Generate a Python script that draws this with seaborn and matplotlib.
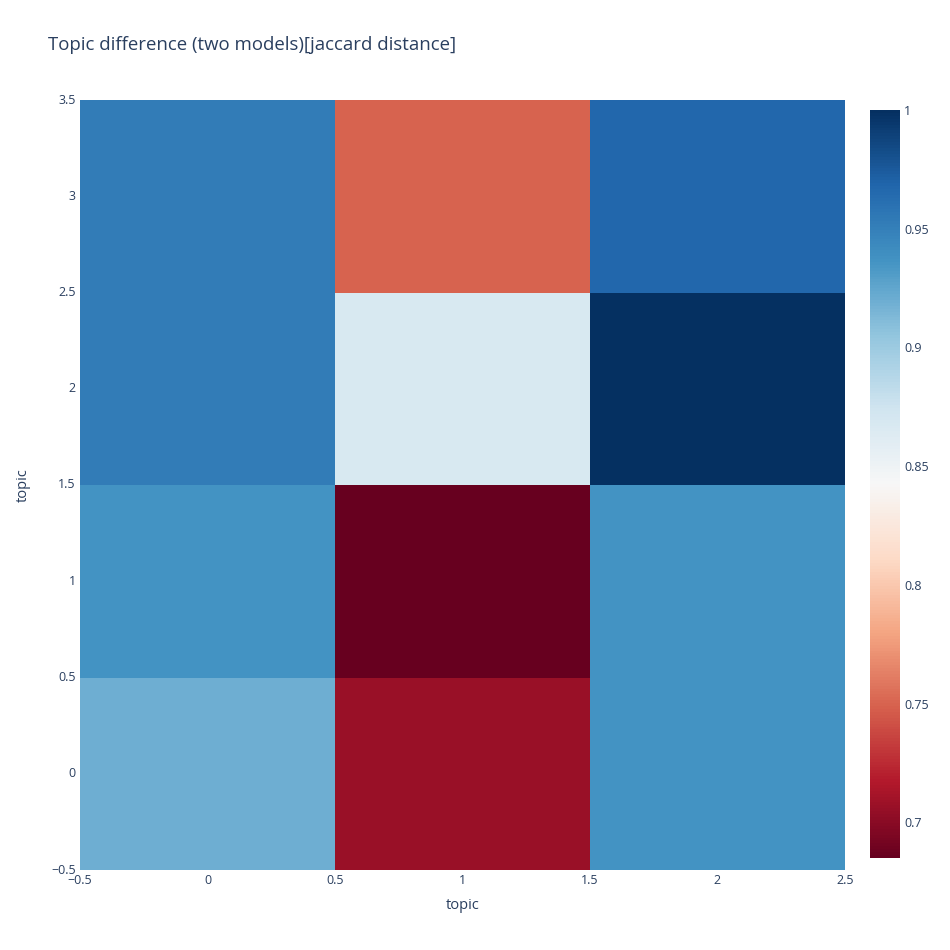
import numpy as np
import pandas as pd
import matplotlib
matplotlib.use("Agg")
import matplotlib.pyplot as plt
import seaborn as sns

# Data (rows = topic 0..3 from bottom, cols = topic 0..2)
row_topics = [0, 1, 2, 3]
col_topics = [0, 1, 2]
row0 = [0.920, 0.707, 0.937]
row1 = [0.937, 0.685, 0.937]
row2 = [0.953, 0.868, 1.000]
row3 = [0.953, 0.749, 0.968]
x_tick_vals = [-0.5, 0, 0.5, 1, 1.5, 2, 2.5]
y_tick_vals = [-0.5, 0, 0.5, 1, 1.5, 2, 2.5, 3, 3.5]
cbar_ticks = [0.7, 0.75, 0.8, 0.85, 0.9, 0.95, 1.0]

title = "Topic difference (two models)[jaccard distance]"
TXT = "#2a3f5f"

sns.set_theme(style="white")
plt.rcParams["font.family"] = ["Open Sans", "DejaVu Sans"]

df = pd.DataFrame([row0, row1, row2, row3], index=row_topics, columns=col_topics)

W = H = 950
fig = plt.figure(figsize=(9.5, 9.5), dpi=100)
ax = fig.add_axes([80 / W, 80 / H, 765 / W, 770 / H])
cax = fig.add_axes([870 / W, 92 / H, 30 / W, 748 / H])

vmin = min(min(r) for r in [row0, row1, row2, row3])
vmax = max(max(r) for r in [row0, row1, row2, row3])
sns.heatmap(df, ax=ax, cmap="RdBu", vmin=vmin, vmax=vmax, cbar_ax=cax,
            cbar_kws={"ticks": cbar_ticks})
ax.set_ylim(0, len(row_topics))
ax.set_xlim(0, len(col_topics))


def fmt(v):
    s = ("%g" % v)
    return s.replace("-", "\u2212")


ax.set_xticks([v + 0.5 for v in x_tick_vals])
ax.set_xticklabels([fmt(v) for v in x_tick_vals], rotation=0)
ax.set_yticks([v + 0.5 for v in y_tick_vals])
ax.set_yticklabels([fmt(v) for v in y_tick_vals], rotation=0)
ax.tick_params(axis="both", length=0, labelsize=9, colors=TXT, pad=3)
for s in ax.spines.values():
    s.set_visible(False)

ax.set_xlabel("topic", fontsize=10.5, color=TXT, labelpad=8)
ax.set_ylabel("topic", fontsize=10.5, color=TXT, labelpad=15)

cax.tick_params(length=0, labelsize=9, colors=TXT, pad=3)
cax.set_yticklabels([fmt(v) for v in cbar_ticks])
cbar = ax.collections[0].colorbar
cbar.outline.set_visible(False)

fig.text(48 / W, 1 - 45 / H, title, fontsize=13.4, color=TXT, va="center", ha="left")

fig.savefig("out.png", dpi=100, facecolor="white")
